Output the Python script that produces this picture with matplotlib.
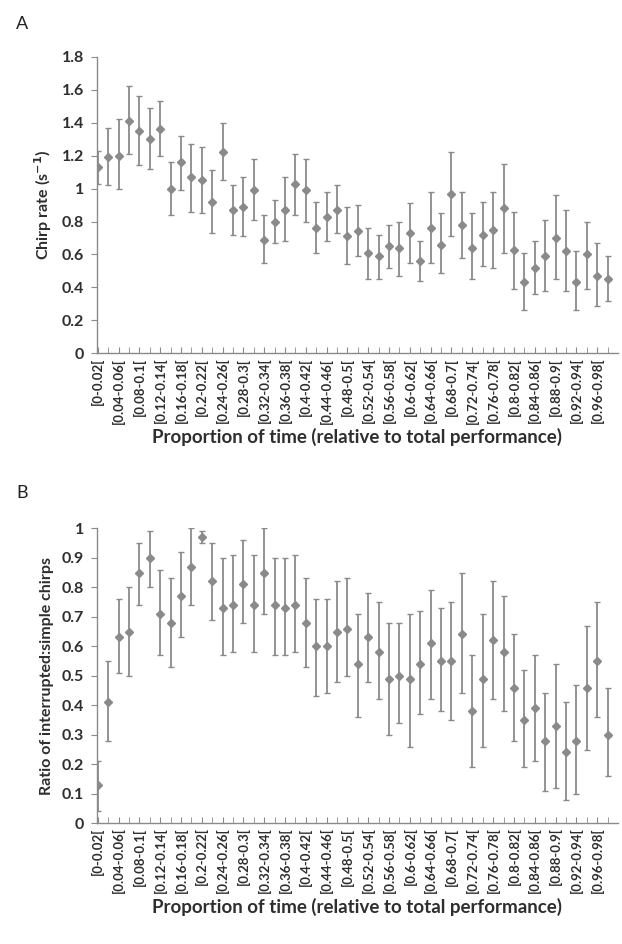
import numpy as np
import matplotlib
matplotlib.use("Agg")
import matplotlib.pyplot as plt

plt.rcParams['font.family'] = ['Lato', 'DejaVu Sans']

# ==========================================
# data
# ==========================================
bin_starts = ['0', '0.02', '0.04', '0.06', '0.08', '0.1', '0.12', '0.14', '0.16', '0.18',
              '0.2', '0.22', '0.24', '0.26', '0.28', '0.3', '0.32', '0.34', '0.36', '0.38',
              '0.4', '0.42', '0.44', '0.46', '0.48', '0.5', '0.52', '0.54', '0.56', '0.58',
              '0.6', '0.62', '0.64', '0.66', '0.68', '0.7', '0.72', '0.74', '0.76', '0.78',
              '0.8', '0.82', '0.84', '0.86', '0.88', '0.9', '0.92', '0.94', '0.96', '0.98']
bin_ends = bin_starts[1:] + ['1']
bin_labels = ['[%s-%s[' % (a, b) for a, b in zip(bin_starts, bin_ends)]

# panel A : chirp rate
chirp_mean = [1.13, 1.19, 1.20, 1.41, 1.35, 1.30, 1.36, 1.00, 1.16, 1.07,
              1.05, 0.92, 1.22, 0.87, 0.89, 0.99, 0.69, 0.80, 0.87, 1.03,
              0.99, 0.76, 0.83, 0.87, 0.71, 0.74, 0.61, 0.59, 0.65, 0.64,
              0.73, 0.56, 0.76, 0.66, 0.97, 0.78, 0.64, 0.72, 0.75, 0.88,
              0.63, 0.43, 0.52, 0.59, 0.70, 0.62, 0.43, 0.60, 0.47, 0.45]
chirp_hi = [1.23, 1.37, 1.42, 1.62, 1.56, 1.49, 1.53, 1.16, 1.32, 1.27,
            1.25, 1.11, 1.40, 1.02, 1.07, 1.18, 0.84, 0.93, 1.07, 1.21,
            1.18, 0.92, 0.98, 1.02, 0.89, 0.90, 0.76, 0.72, 0.78, 0.80,
            0.91, 0.68, 0.98, 0.85, 1.22, 0.98, 0.85, 0.92, 0.98, 1.15,
            0.86, 0.61, 0.68, 0.81, 0.96, 0.87, 0.62, 0.80, 0.67, 0.59]
chirp_lo = [1.03, 1.02, 1.00, 1.21, 1.14, 1.12, 1.20, 0.84, 0.99, 0.86,
            0.85, 0.73, 1.05, 0.72, 0.71, 0.81, 0.55, 0.67, 0.68, 0.84,
            0.80, 0.61, 0.68, 0.73, 0.54, 0.59, 0.45, 0.45, 0.52, 0.47,
            0.55, 0.44, 0.55, 0.49, 0.71, 0.58, 0.45, 0.53, 0.52, 0.61,
            0.39, 0.26, 0.36, 0.38, 0.45, 0.38, 0.26, 0.39, 0.29, 0.32]

# panel B : ratio interrupted / simple chirps
ratio_mean = [0.13, 0.41, 0.63, 0.65, 0.85, 0.90, 0.71, 0.68, 0.77, 0.87,
              0.97, 0.82, 0.73, 0.74, 0.81, 0.74, 0.85, 0.74, 0.73, 0.74,
              0.68, 0.60, 0.60, 0.65, 0.66, 0.54, 0.63, 0.58, 0.49, 0.50,
              0.49, 0.54, 0.61, 0.55, 0.55, 0.64, 0.38, 0.49, 0.62, 0.58,
              0.46, 0.35, 0.39, 0.28, 0.33, 0.24, 0.28, 0.46, 0.55, 0.30]
ratio_hi = [0.21, 0.55, 0.76, 0.80, 0.95, 0.99, 0.86, 0.83, 0.92, 1.00,
            0.99, 0.95, 0.90, 0.91, 0.96, 0.91, 1.00, 0.90, 0.90, 0.91,
            0.83, 0.76, 0.76, 0.82, 0.83, 0.71, 0.78, 0.75, 0.68, 0.68,
            0.71, 0.72, 0.79, 0.73, 0.75, 0.85, 0.57, 0.71, 0.82, 0.77,
            0.64, 0.52, 0.57, 0.44, 0.54, 0.41, 0.47, 0.67, 0.75, 0.46]
ratio_lo = [0.04, 0.28, 0.51, 0.50, 0.74, 0.80, 0.57, 0.53, 0.63, 0.74,
            0.95, 0.69, 0.57, 0.58, 0.68, 0.58, 0.71, 0.57, 0.57, 0.58,
            0.53, 0.43, 0.44, 0.48, 0.50, 0.36, 0.48, 0.42, 0.30, 0.34,
            0.26, 0.37, 0.42, 0.38, 0.35, 0.44, 0.19, 0.26, 0.42, 0.38,
            0.28, 0.19, 0.21, 0.11, 0.12, 0.08, 0.10, 0.25, 0.36, 0.16]

x_label = 'Proportion of time (relative to total performance)'
grey = '#8a8a8a'
txt = '#2e2e2e'

fig = plt.figure(figsize=(6.22, 9.44), dpi=100)
axA = fig.add_axes([0.1555, 0.6257, 0.838, 0.3142])
axB = fig.add_axes([0.1555, 0.1279, 0.838, 0.3125])


def draw_panel(ax, mean, lo, hi, ymax, ystep, ylabel):
    x = np.arange(len(mean))
    mean = np.array(mean)
    yerr = [mean - np.array(lo), np.array(hi) - mean]
    ax.errorbar(x, mean, yerr=yerr, fmt='D', ms=3.8, color=grey, ecolor=grey,
                elinewidth=1.3, capsize=2, capthick=1.0, mec=grey, mfc=grey)
    ax.set_xlim(-0.1, 50.0)
    ax.set_ylim(0, ymax)
    yt = np.round(np.arange(0, ymax + 1e-9, ystep), 2)
    ax.set_yticks(yt)
    ax.set_yticklabels([('%.1f' % v).rstrip('0').rstrip('.') for v in yt],
                       fontsize=11.5, fontweight='bold', color=txt)
    ax.set_xticks(x[::2])
    ax.set_xticklabels(bin_labels[::2], rotation=90, fontsize=9.5,
                       fontweight='bold', color=txt)
    ax.set_xticks(x, minor=True)
    ax.tick_params(axis='x', which='both', direction='in', length=4, color=grey, pad=3)
    ax.tick_params(axis='y', direction='out', length=4, color=grey, pad=5)
    for s in ['top', 'right']:
        ax.spines[s].set_visible(False)
    for s in ['left', 'bottom']:
        ax.spines[s].set_color(grey)
        ax.spines[s].set_linewidth(1.0)
    ax.set_xlabel(x_label, fontsize=13.5, fontweight='bold', color=txt, labelpad=3)
    ax.set_ylabel(ylabel, fontsize=11.5, fontweight='bold', color=txt, labelpad=6)


draw_panel(axA, chirp_mean, chirp_lo, chirp_hi, 1.8, 0.2,
           r'Chirp rate (s$^{\mathbf{-1}}$)')
draw_panel(axB, ratio_mean, ratio_lo, ratio_hi, 1.0, 0.1,
           'Ratio of interrupted:simple chirps')

fig.text(0.026, 0.975, 'A', fontsize=13, color='#222222', va='center')
fig.text(0.026, 0.478, 'B', fontsize=13, color='#222222', va='center')

fig.savefig('out.png', dpi=100)
